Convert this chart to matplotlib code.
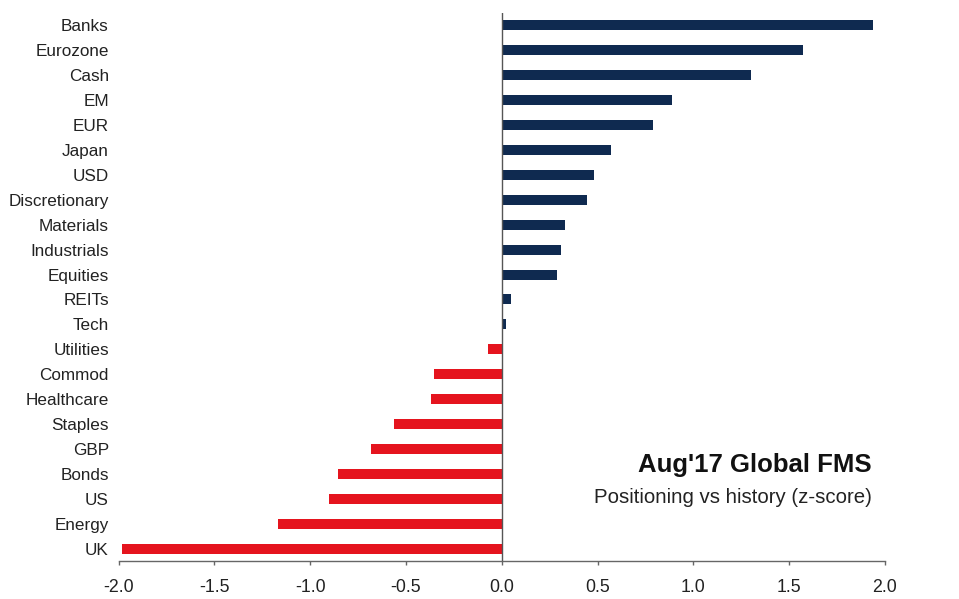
import matplotlib
matplotlib.use("Agg")
import matplotlib.pyplot as plt

plt.rcParams['font.family'] = ['Liberation Sans', 'DejaVu Sans']

categories = ["Banks", "Eurozone", "Cash", "EM", "EUR", "Japan", "USD",
              "Discretionary", "Materials", "Industrials", "Equities", "REITs",
              "Tech", "Utilities", "Commod", "Healthcare", "Staples", "GBP",
              "Bonds", "US", "Energy", "UK"]
zscores = [1.94, 1.57, 1.30, 0.89, 0.79, 0.57, 0.48,
           0.445, 0.33, 0.31, 0.29, 0.05,
           0.02, -0.07, -0.355, -0.367, -0.56, -0.68,
           -0.857, -0.90, -1.17, -1.98]
xticks = [-2.0, -1.5, -1.0, -0.5, 0.0, 0.5, 1.0, 1.5, 2.0]

NAVY = "#0f2a50"
RED = "#e5141e"

fig = plt.figure(figsize=(9.59, 5.99), dpi=100)
ax = fig.add_axes([0.1236, 0.0634, 0.7992, 0.9149])

ypos = list(range(len(categories)))
colors = [NAVY if v >= 0 else RED for v in zscores]
ax.barh(ypos, zscores, height=0.4, color=colors, zorder=2)

ax.set_xlim(-2.0, 2.0)
ax.set_ylim(len(categories) - 0.5, -0.5)
ax.axvline(0, color="#555555", lw=1.0, zorder=3)

ax.set_yticks(ypos)
ax.set_yticklabels(categories, fontsize=12.3, color="#222222")
ax.tick_params(axis="y", length=0, pad=7)

ax.set_xticks(xticks)
ax.set_xticklabels([f"{t:.1f}" for t in xticks], fontsize=12.8, color="#222222")
ax.tick_params(axis="x", direction="out", length=3, width=1, color="#666666", pad=10)

for s in ("left", "right", "top"):
    ax.spines[s].set_visible(False)
ax.spines["bottom"].set_color("#666666")
ax.spines["bottom"].set_linewidth(1.0)

ax.text(1.93, 17.63, "Aug'17 Global FMS", ha="right", va="center",
        fontsize=18.5, fontweight="bold", color="#111111")
ax.text(1.93, 18.96, "Positioning vs history (z-score)", ha="right", va="center",
        fontsize=14.7, color="#222222")

fig.savefig("out.png", dpi=100)
